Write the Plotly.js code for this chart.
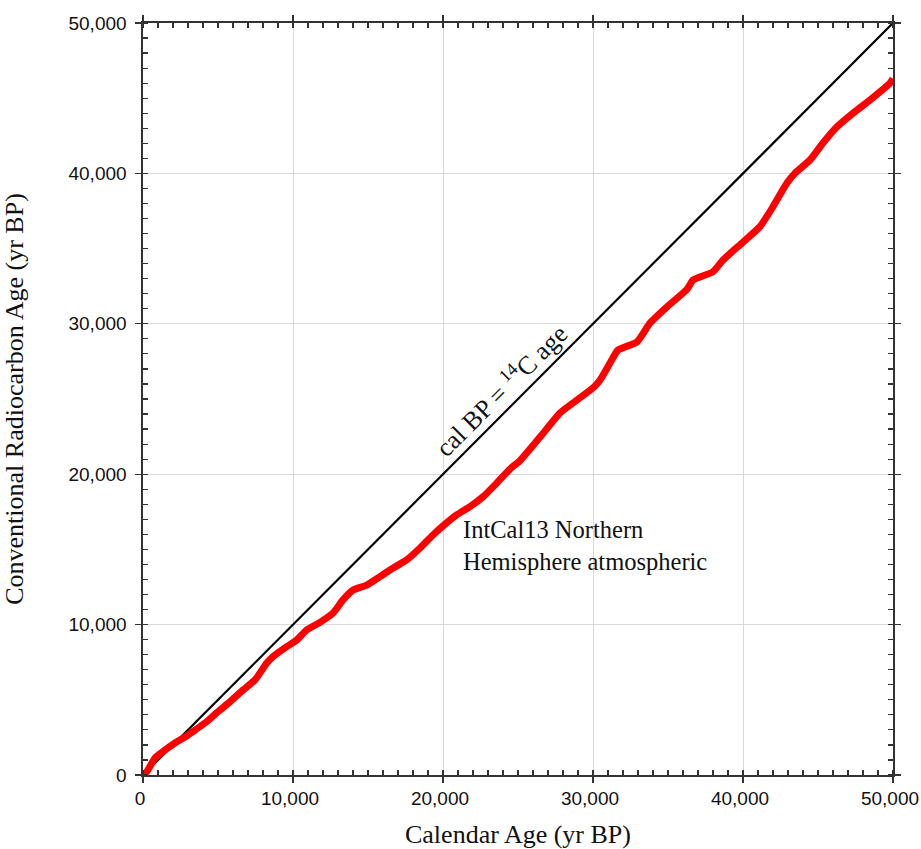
<!DOCTYPE html>
<html>
<head>
<meta charset="utf-8">
<script src="https://cdn.plot.ly/plotly-3.0.1.min.js"></script>
<style>
  html, body { margin: 0; padding: 0; background: #ffffff; }
  #chart { width: 921px; height: 849px; }
</style>
</head>
<body>
<div id="chart"></div>
<script>
// IntCal13 Northern Hemisphere atmospheric calibration curve (cal BP vs 14C BP)
const calAge = [0, 250, 800, 1470, 2130, 2800, 3470, 4250, 5000, 5800, 6670, 7470, 8250, 8670,
  9580, 10250, 10910, 11800, 12670, 13330, 14000, 14910, 15800, 16670, 17580, 18470, 19330,
  20070, 20910, 21800, 22670, 23580, 24470, 25130, 26470, 27800, 28930, 30070, 30470, 31130,
  31670, 32930, 33800, 34930, 36270, 36670, 38000, 38670, 39930, 41130, 42000, 42930, 43470,
  44470, 45330, 46270, 47330, 48470, 49800, 50000];
const c14Age = [0, 220, 1130, 1660, 2130, 2530, 2990, 3550, 4210, 4870, 5650, 6320, 7440, 7870,
  8530, 8980, 9640, 10150, 10770, 11640, 12300, 12630, 13190, 13760, 14300, 15090, 15960,
  16620, 17290, 17840, 18500, 19410, 20350, 20900, 22470, 24070, 24930, 25800, 26260, 27390,
  28260, 28790, 30050, 31120, 32300, 32910, 33460, 34240, 35370, 36460, 37790, 39360, 40020,
  40890, 42020, 43100, 44000, 44880, 46000, 46300];

// 1:1 reference line
const oneToOneX = [0, 50000];
const oneToOneY = [0, 50000];

const tickVals = [0, 10000, 20000, 30000, 40000, 50000];
const tickText = ['0', '10,000', '20,000', '30,000', '40,000', '50,000'];

const serif = '"Liberation Serif", "Times New Roman", serif';
const sans = '"Liberation Sans", "Open Sans", sans-serif';

const axisCommon = {
  range: [0, 50000],
  tickvals: tickVals,
  ticktext: tickText,
  ticks: 'outside',
  ticklen: 6,
  tickwidth: 1.3,
  tickcolor: '#333333',
  showline: true,
  linecolor: '#333333',
  linewidth: 1.6,
  mirror: 'allticks',
  showgrid: true,
  gridcolor: '#d9d9d9',
  gridwidth: 1,
  zeroline: false,
  ticklabeloverflow: 'allow',
  tickfont: { family: sans, size: 19, color: '#111111' },
  minor: {
    dtick: 1000,
    ticks: 'inside',
    ticklen: 5,
    tickwidth: 1.2,
    tickcolor: '#333333',
    showgrid: false
  }
};

const traces = [
  {
    x: oneToOneX, y: oneToOneY,
    type: 'scatter', mode: 'lines',
    line: { color: '#000000', width: 2.2 },
    hoverinfo: 'skip', showlegend: false
  },
  {
    x: calAge, y: c14Age,
    type: 'scatter', mode: 'lines',
    line: { color: '#ff0000', width: 7, shape: 'spline', smoothing: 0.5 },
    showlegend: false
  }
];

const layout = {
  width: 921, height: 849,
  margin: { l: 143, r: 28, t: 23, b: 74 },
  paper_bgcolor: '#ffffff',
  plot_bgcolor: '#ffffff',
  showlegend: false,
  xaxis: Object.assign({}, axisCommon, {
    ticklabelshift: -3,
    title: { text: 'Calendar Age (yr BP)', font: { family: serif, size: 26, color: '#111111' }, standoff: 16 }
  }),
  yaxis: Object.assign({}, axisCommon, {
    ticklabelstandoff: 5,
    title: { text: 'Conventional Radiocarbon Age (yr BP)', font: { family: serif, size: 26, color: '#111111' }, standoff: 38 }
  }),
  annotations: [
    {
      x: 23850, y: 25600, xref: 'x', yref: 'y',
      text: 'cal BP = <sup>14</sup>C age',
      textangle: -45,
      showarrow: false,
      font: { family: serif, size: 26, color: '#111111' }
    },
    {
      x: 21200, y: 15250, xref: 'x', yref: 'y',
      xanchor: 'left', yanchor: 'middle', align: 'left',
      text: 'IntCal13 Northern<br>Hemisphere atmospheric',
      showarrow: false,
      font: { family: serif, size: 24.5, color: '#111111' }
    }
  ]
};

Plotly.newPlot('chart', traces, layout, { displayModeBar: false, staticPlot: true });
</script>
</body>
</html>
